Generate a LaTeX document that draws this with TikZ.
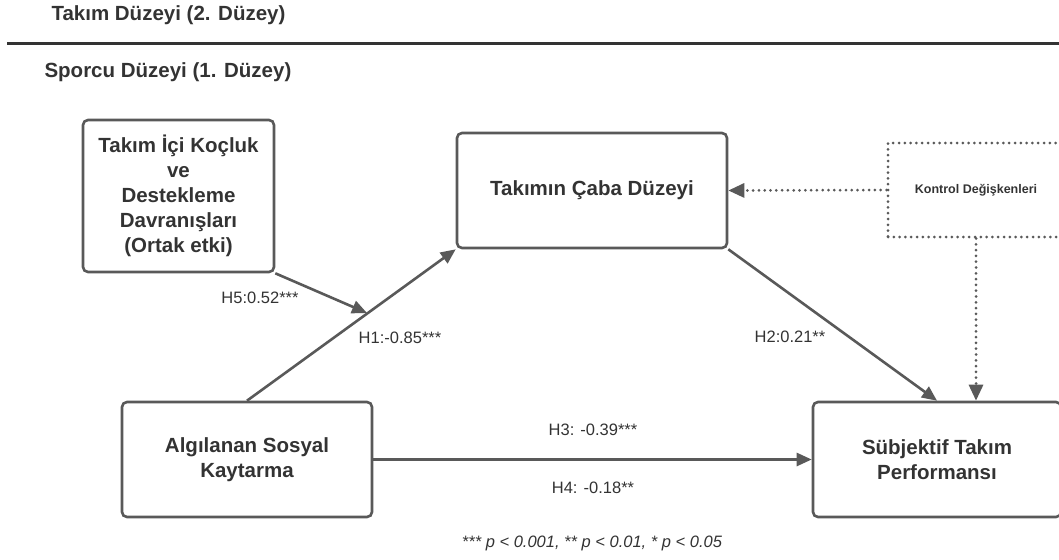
\documentclass[tikz,border=0pt]{standalone}
\usepackage{fontspec}
\setmainfont{Liberation Sans}
\usetikzlibrary{arrows.meta}
\definecolor{kenar}{HTML}{595959}
\definecolor{yazi}{HTML}{333333}

\begin{document}
\begin{tikzpicture}[
	kutu/.style={draw=kenar, line width=2.6pt, rounded corners=5pt, align=center, text=yazi, inner sep=0pt, font=\fontsize{20.5}{25}\selectfont\bfseries},
	kontrolkutu/.style={draw=kenar, line width=3pt, line cap=round, dash pattern=on 0pt off 5.8pt, align=center, text=yazi, inner sep=0pt, font=\fontsize{12.5}{15}\selectfont\bfseries},
	ok/.style={draw=kenar, line width=2.6pt, -{Triangle[length=15pt,width=13pt]}},
	noktali/.style={draw=kenar, line width=3pt, line cap=round, dash pattern=on 0pt off 5.8pt, -{Triangle[length=16pt,width=14pt]}},
	etiket/.style={text=yazi, font=\fontsize{16.5}{20}\selectfont},
	baslik/.style={text=yazi, anchor=west, font=\fontsize{20.5}{24}\selectfont\bfseries}] 
	\pgfsetxvec{\pgfpoint{1pt}{0pt}} 
	\pgfsetyvec{\pgfpoint{0pt}{-1pt}} 

	\useasboundingbox (0,0) rectangle (1059,559);
	\clip (0,0) rectangle (1059,559);

	% duzey basliklari
	\node[baslik] at (48,15) (takim) {Takım Düzeyi (2. Düzey)}; 
	\node[baslik] at (41,72) (sporcu) {Sporcu Düzeyi (1. Düzey)}; 
	\coordinate (ayrac1) at (7,44); 
	\coordinate (ayrac2) at (1059,44); 
	\draw[yazi, line width=3pt] (ayrac1) -- (ayrac2); 

	% kutular
	\node[kutu, minimum width=191pt, minimum height=152pt] at (178.5,196) (kocluk) {Takım İçi Koçluk\\ve\\Destekleme\\Davranışları\\(Ortak etki)}; 
	\node[kutu, minimum width=270pt, minimum height=115pt] at (592,190.5) (caba) {Takımın Çaba Düzeyi}; 
	\node[kutu, minimum width=250pt, minimum height=115pt] at (247,459.5) (alg) {Algılanan Sosyal\\Kaytarma}; 
	\node[kutu, minimum width=248pt, minimum height=115pt] at (937,459.5) (sub) {Sübjektif Takım\\Performansı}; 
	\node[kontrolkutu, minimum width=176pt, minimum height=94pt] at (976,190) (kontrol) {Kontrol Değişkenleri}; 
	\coordinate (h1orta) at (367,313); 

	% yollar
	\path (alg.north) 
	edge[ok] (caba.south west) 
	(kocluk.south east) 
	edge[ok] (h1orta) 
	(caba.south east) 
	edge[ok] (sub.north) 
	(alg.east) 
	edge[ok] (sub.west); 
	\path (kontrol.west) 
	edge[noktali] (caba.east) 
	(kontrol.south) 
	edge[noktali] (kontrol.south |- sub.north); 

	% katsayilar
	\node[etiket] at (260,298) (h5) {H5:0.52***}; 
	\node[etiket] at (400,338) (h1) {H1:-0.85***}; 
	\node[etiket] at (790,337) (h2) {H2:0.21**}; 
	\node[etiket] at (593,430) (h3) {H3: -0.39***}; 
	\node[etiket] at (593,488) (h4) {H4: -0.18**}; 
	\node[etiket, font=\fontsize{16.5}{20}\selectfont\itshape] at (592,543) (not) {*** p < 0.001, ** p < 0.01, * p < 0.05}; 

\end{tikzpicture}
\end{document}
